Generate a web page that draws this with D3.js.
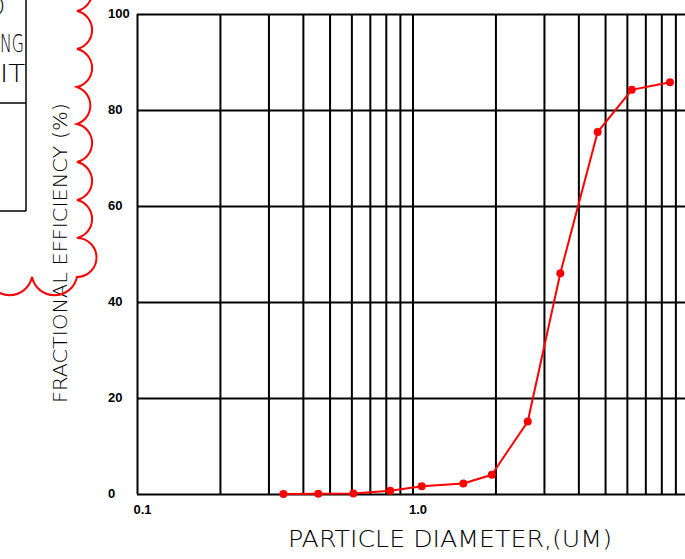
<!DOCTYPE html>
<html><head><meta charset="utf-8">
<script src="https://cdn.jsdelivr.net/npm/d3@7/dist/d3.min.js"></script>
<style>
html,body{margin:0;padding:0;background:#fff;}
svg{display:block;}
.title{font-family:"DejaVu Sans","Liberation Sans",sans-serif;font-weight:200;fill:#000;}
.tick text{font-family:"Liberation Sans",Arial,sans-serif;font-weight:bold;font-size:13px;fill:#000;}
</style></head>
<body>
<svg id="chart" width="685" height="559"></svg>
<script>
// ---- data ----
const diameters = [0.34, 0.455, 0.61, 0.83, 1.08, 1.53, 1.94, 2.62, 3.44, 4.70, 6.25, 8.6];
const efficiency = [0.0, 0.05, 0.1, 0.7, 1.6, 2.2, 4.0, 15.1, 46.0, 75.4, 84.2, 85.8];
const xGridValues = [0.1,0.2,0.3,0.4,0.5,0.6,0.7,0.8,0.9,1,2,3,4,5,6,7,8,9,10];
const xLabelValues = [0.1, 1];
const xLabelText = ["0.1", "1.0"];
const yTickValues = [0, 20, 40, 60, 80, 100];
const xTitle = "PARTICLE DIAMETER,(UM)";
const yTitle = "FRACTIONAL EFFICIENCY (%)";
const boxLines = ["D", "NG", "IT"];

(function () {
// ---- layout ----
const svg = d3.select("#chart");
const W = 685, H = 559;
const mLeft = 137, mTop = 14, mBottom = 494;
const x = d3.scaleLog().domain([0.1, 10]).range([mLeft, 688]);
const y = d3.scaleLinear().domain([0, 100]).range([mBottom, mTop]);

// grid via axes
const gx = svg.append("g").attr("transform", `translate(0,${mBottom})`)
  .call(d3.axisBottom(x).tickValues(xGridValues).tickSize(-(mBottom - mTop)).tickSizeOuter(0)
    .tickFormat(d => { const i = xLabelValues.findIndex(v => Math.abs(v - d) < 1e-9); return i >= 0 ? xLabelText[i] : ""; }));
gx.select(".domain").remove();
gx.selectAll(".tick line").attr("stroke", "#000").attr("stroke-width", 2);
gx.selectAll(".tick text").attr("text-anchor", "start").attr("x", -4).attr("y", 0).attr("dy", "20px");

const gy = svg.append("g").attr("transform", `translate(${mLeft},0)`)
  .call(d3.axisLeft(y).tickValues(yTickValues).tickSize(-(W - mLeft)).tickSizeOuter(0));
gy.select(".domain").remove();
gy.selectAll(".tick line").attr("stroke", "#000").attr("stroke-width", 2);
gy.selectAll(".tick text").attr("text-anchor", "start").attr("x", 108 - mLeft).attr("dy", "0.3em");

// data line
const pts = diameters.map((d, i) => [d, efficiency[i]]);
svg.append("path").datum(pts)
  .attr("fill", "none").attr("stroke", "#ff0000").attr("stroke-width", 2)
  .attr("d", d3.line().x(d => x(d[0])).y(d => y(d[1])));
svg.append("g").selectAll("circle").data(pts).join("circle")
  .attr("cx", d => x(d[0])).attr("cy", d => y(d[1])).attr("r", 4).attr("fill", "#ff0000");

// titles
svg.append("text").attr("class", "title").attr("x", 288).attr("y", 547)
  .attr("font-size", 23).attr("textLength", 324).attr("lengthAdjust", "spacingAndGlyphs").text(xTitle);
svg.append("text").attr("class", "title")
  .attr("transform", "translate(67,403) rotate(-90)")
  .attr("font-size", 19).attr("textLength", 300).attr("lengthAdjust", "spacingAndGlyphs").text(yTitle);

// cut-off title block at left
const box = svg.append("g").attr("stroke", "#000").attr("stroke-width", 1.5).attr("fill", "none");
box.append("line").attr("x1", 26).attr("y1", 0).attr("x2", 26).attr("y2", 211);
box.append("line").attr("x1", 0).attr("y1", 103).attr("x2", 26).attr("y2", 103);
box.append("line").attr("x1", 0).attr("y1", 211).attr("x2", 26).attr("y2", 211);
const boxPos = [[-12, 15, 17], [0, 52, 24], [0, 82, 25]];
svg.selectAll("text.box").data(boxLines).join("text").attr("class", "title box")
  .attr("x", (d, i) => boxPos[i][0]).attr("y", (d, i) => boxPos[i][1])
  .attr("textLength", (d, i) => boxPos[i][2]).attr("lengthAdjust", "spacingAndGlyphs")
  .attr("font-size", 25).text(d => d);

// revision cloud
const cuspsRight = [-27, 11, 49, 87, 124, 162, 200, 238, 277];
const cuspsBottom = [77, 32, -13];
let s = "M77," + cuspsRight[0];
for (let i = 1; i < cuspsRight.length; i++) s += ` A19.5,19.5 0 0 1 77,${cuspsRight[i]}`;
for (let i = 1; i < cuspsBottom.length; i++) s += ` A23,23 0 0 1 ${cuspsBottom[i]},277`;
svg.append("path").attr("d", s).attr("fill", "none").attr("stroke", "#ff0000").attr("stroke-width", 2);
})();
</script>
</body></html>
